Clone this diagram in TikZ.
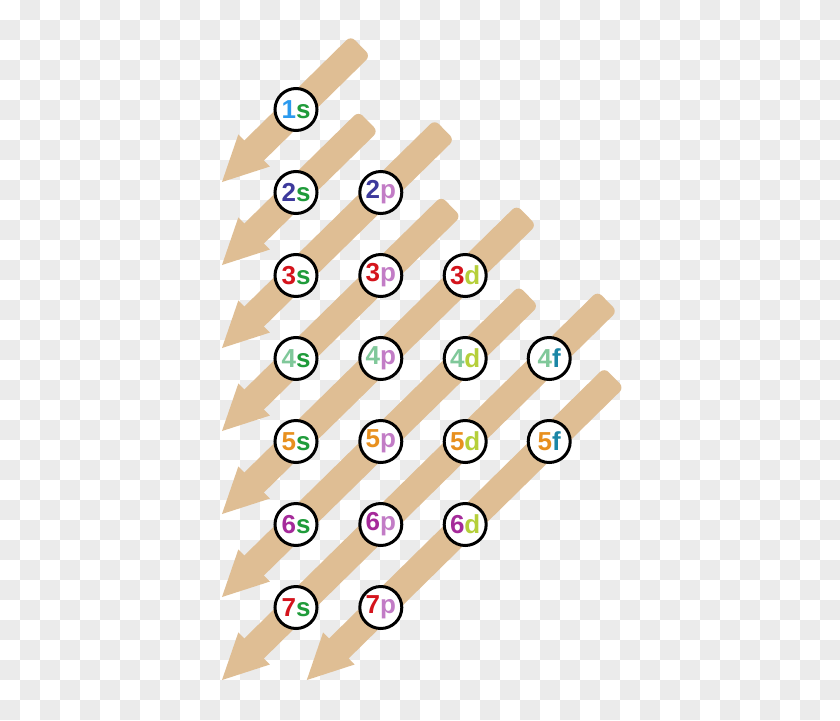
\documentclass[tikz,border=0pt]{standalone}
\usepackage{fontspec}
\setmainfont{Liberation Sans}
\usetikzlibrary{calc}
\definecolor{bgsq}{HTML}{EBEBEB}
\definecolor{tanc}{HTML}{DFBE94}
\definecolor{cOne}{HTML}{2B9AEE}
\definecolor{cTwo}{HTML}{3D3A9C}
\definecolor{cThree}{HTML}{D4141C}
\definecolor{cFour}{HTML}{80C89A}
\definecolor{cFive}{HTML}{E8901E}
\definecolor{cSix}{HTML}{A52A9A}
\definecolor{cS}{HTML}{1F9B3A}
\definecolor{cP}{HTML}{C27CC6}
\definecolor{cD}{HTML}{B5CF3A}
\definecolor{cF}{HTML}{1B86A6}
\tikzset{
  arrowfill/.style={fill=tanc},
  orb/.style={circle,draw=black,line width=3pt,fill=white,minimum size=42pt,inner sep=0pt,
    font=\fontsize{26}{26}\selectfont\bfseries},
}
\newcommand\tanarrow[2]{%
  \coordinate (nk) at ($(#2)!45pt!(#1)$);
  \coordinate (nx) at ($(#2)!37pt!(#1)$);
  \fill[arrowfill,rounded corners=6pt] ($(#1)!14pt!90:(#2)$) -- ($(nx)!14pt!-90:(#1)$)
     -- ($(nx)!14pt!90:(#1)$) -- ($(#1)!14pt!-90:(#2)$) -- cycle;
  \fill[arrowfill] ($(nk)!22.5pt!90:(#2)$) -- (#2) -- ($(nk)!22.5pt!-90:(#2)$) -- cycle;
}
\begin{document}
\begin{tikzpicture}[x=1pt,y=-1pt]
\useasboundingbox (0,0) rectangle (840,720);
\fill[white] (0,0) rectangle (840,720);
\foreach \i in {0,2,...,40} {
  \foreach \j in {0,2,...,34} {
    \fill[bgsq] (\i*20+20,\j*20) rectangle +(20,20);
    \fill[bgsq] (\i*20,\j*20+20) rectangle +(20,20);
  }
}
% tails and tips
\coordinate (t1) at (360.6,45.9);  \coordinate (p1) at (222,182);
\coordinate (t2) at (368.3,121.4); \coordinate (p2) at (222,265);
\coordinate (t3) at (444.5,129.8); \coordinate (p3) at (222,348);
\coordinate (t4) at (451.1,206.4); \coordinate (p4) at (222,431);
\coordinate (t5) at (526.5,215.2); \coordinate (p5) at (222,514);
\coordinate (t6) at (528.6,296.1); \coordinate (p6) at (222,597);
\coordinate (t7) at (607.4,301.2); \coordinate (p7) at (222,680);
\coordinate (t8) at (614.1,377.7); \coordinate (p8) at (306.8,680);
\foreach \k in {1,...,8} { \tanarrow{t\k}{p\k} }
% orbitals
\def\cA{296} \def\cB{380.8} \def\cC{465.2} \def\cD{549.2}
\node[orb] (o1s) at (\cA,109.5) {\textcolor{cOne}{1}\textcolor{cS}{s}};
\node[orb] (o2s) at (\cA,192.5) {\textcolor{cTwo}{2}\textcolor{cS}{s}};
\node[orb] (o2p) at (\cB,192.5) {\textcolor{cTwo}{2}\textcolor{cP}{p}};
\node[orb] (o3s) at (\cA,275.5) {\textcolor{cThree}{3}\textcolor{cS}{s}};
\node[orb] (o3p) at (\cB,275.5) {\textcolor{cThree}{3}\textcolor{cP}{p}};
\node[orb] (o3d) at (\cC,275.5) {\textcolor{cThree}{3}\textcolor{cD}{d}};
\node[orb] (o4s) at (\cA,358.5) {\textcolor{cFour}{4}\textcolor{cS}{s}};
\node[orb] (o4p) at (\cB,358.5) {\textcolor{cFour}{4}\textcolor{cP}{p}};
\node[orb] (o4d) at (\cC,358.5) {\textcolor{cFour}{4}\textcolor{cD}{d}};
\node[orb] (o4f) at (\cD,358.5) {\textcolor{cFour}{4}\textcolor{cF}{f}};
\node[orb] (o5s) at (\cA,441.5) {\textcolor{cFive}{5}\textcolor{cS}{s}};
\node[orb] (o5p) at (\cB,441.5) {\textcolor{cFive}{5}\textcolor{cP}{p}};
\node[orb] (o5d) at (\cC,441.5) {\textcolor{cFive}{5}\textcolor{cD}{d}};
\node[orb] (o5f) at (\cD,441.5) {\textcolor{cFive}{5}\textcolor{cF}{f}};
\node[orb] (o6s) at (\cA,524.5) {\textcolor{cSix}{6}\textcolor{cS}{s}};
\node[orb] (o6p) at (\cB,524.5) {\textcolor{cSix}{6}\textcolor{cP}{p}};
\node[orb] (o6d) at (\cC,524.5) {\textcolor{cSix}{6}\textcolor{cD}{d}};
\node[orb] (o7s) at (\cA,607.5) {\textcolor{cThree}{7}\textcolor{cS}{s}};
\node[orb] (o7p) at (\cB,607.5) {\textcolor{cThree}{7}\textcolor{cP}{p}};
\end{tikzpicture}
\end{document}
